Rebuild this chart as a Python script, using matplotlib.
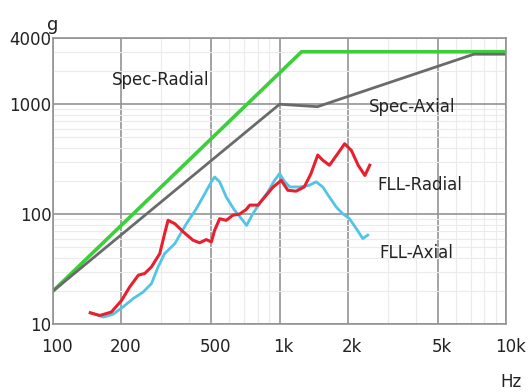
import matplotlib
matplotlib.use('Agg')
import matplotlib.pyplot as plt
import matplotlib.transforms as mtransforms
from matplotlib.ticker import FixedLocator, NullFormatter

# Spec curves (Hz, g)
spec_radial_f = [100, 1250, 9900]
spec_radial_g = [20, 3000, 3000]
spec_axial_f = [100, 1000, 1470, 7200, 9900]
spec_axial_g = [20, 1000, 950, 2850, 2850]

# Measured FLL curves
fll_radial_f = [146, 161, 181, 201, 218, 238, 254, 272, 296, 311, 322, 345, 376, 415,
                444, 475, 500, 517, 544, 582, 622, 665, 711, 739, 803, 874, 935, 1017,
                1088, 1183, 1285, 1376, 1474, 1550, 1660, 1807, 1937, 2075, 2222, 2380, 2500]
fll_radial_g = [12.7, 12.0, 12.9, 16.5, 21.8, 27.9, 28.9, 33.2, 43.9, 66.8, 88, 82, 69, 58,
                55, 58.8, 56, 71.5, 91, 88, 98, 100, 110, 121, 121, 149, 176, 203,
                165, 162, 177, 234, 345, 310, 279, 356, 437, 380, 279, 225, 279]
fll_axial_f = [148, 167, 184, 204, 226, 250, 272, 291, 311, 345, 388, 429, 467, 500, 517,
               544, 582, 632, 688, 715, 760, 815, 888, 950, 1000, 1055, 1110, 1220, 1350,
               1450, 1550, 1660, 1780, 1900, 2035, 2180, 2330, 2450]
fll_axial_g = [12.6, 11.6, 12.3, 14.4, 17.1, 19.6, 23.4, 33.2, 43.9, 54, 82, 112, 153, 197, 218,
               197, 143, 109, 88, 79, 100, 125, 160, 203, 234, 197, 177, 177, 183,
               197, 177, 143, 116, 101, 91, 74, 60, 64.6]

x_ticks = [100, 200, 500, 1000, 2000, 5000, 10000]
x_labels = ['100', '200', '500', '1k', '2k', '5k', '10k']
y_ticks = [10, 100, 1000, 4000]
y_labels = ['10', '100', '1000', '4000']

plt.rcParams['font.family'] = ['DejaVu Sans']

fig = plt.figure(figsize=(5.3, 3.92), dpi=100)
ax = fig.add_axes([0.1, 0.173, 0.855, 0.73])

ax.set_xscale('log')
ax.set_yscale('log')
ax.set_xlim(100, 10000)
ax.set_ylim(10, 4000)

# grid
ax.xaxis.set_major_locator(FixedLocator(x_ticks))
ax.yaxis.set_major_locator(FixedLocator(y_ticks))
ax.xaxis.set_minor_locator(FixedLocator([300, 400, 600, 700, 800, 900, 3000, 4000,
                                         6000, 7000, 8000, 9000]))
ax.yaxis.set_minor_locator(FixedLocator([20, 30, 40, 50, 60, 70, 80, 90,
                                         200, 300, 400, 500, 600, 700, 800, 900,
                                         2000, 3000]))
ax.xaxis.set_minor_formatter(NullFormatter())
ax.yaxis.set_minor_formatter(NullFormatter())
ax.set_xticklabels(x_labels)
ax.set_yticklabels(y_labels)
ax.grid(which='major', color='#939393', linewidth=1.2)
ax.grid(which='minor', color='#ebebeb', linewidth=0.8)
ax.tick_params(which='both', length=0, labelsize=12, colors='#222222')
ax.tick_params(axis='x', pad=10)
ax.tick_params(axis='y', pad=1)
shift = mtransforms.ScaledTranslation(4 / 100, 0, fig.dpi_scale_trans)
for lbl in ax.get_xticklabels():
    lbl.set_transform(lbl.get_transform() + shift)
for s in ax.spines.values():
    s.set_color('#939393')
    s.set_linewidth(1.2)
ax.set_axisbelow(True)

ax.plot(spec_radial_f, spec_radial_g, color='#3ccf3c', linewidth=2.6)
ax.plot(spec_axial_f, spec_axial_g, color='#6a6a6a', linewidth=2.0)
ax.plot(fll_axial_f, fll_axial_g, color='#52c4e6', linewidth=2.0)
ax.plot(fll_radial_f, fll_radial_g, color='#e8202e', linewidth=2.2)

txt = dict(fontsize=12, color='#222222', va='center')
ax.text(182, 1650, 'Spec-Radial', **txt)
ax.text(2485, 940, 'Spec-Axial', **txt)
ax.text(2700, 184, 'FLL-Radial', **txt)
ax.text(2750, 44, 'FLL-Axial', **txt)

fig.text(53 / 530, 1 - 25 / 392, 'g', fontsize=13, color='#222222', ha='center', va='center')
fig.text(511 / 530, 1 - 382 / 392, 'Hz', fontsize=12, color='#222222', ha='center', va='center')

fig.savefig('out.png', dpi=100)
